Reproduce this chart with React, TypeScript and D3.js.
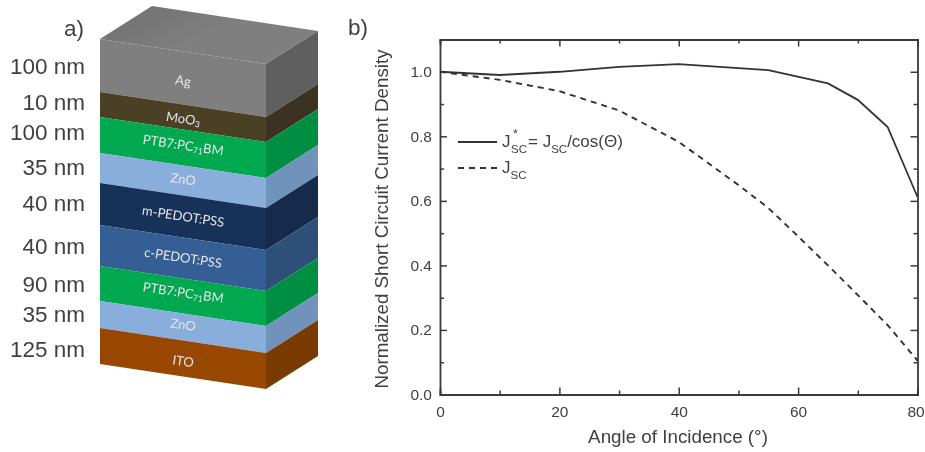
import React, { useEffect, useRef } from 'react';
import * as d3 from 'd3';

// panel a) layer stack, top to bottom
const layerNames = ['Ag', 'MoO3', 'PTB7:PC71BM', 'ZnO', 'm-PEDOT:PSS', 'c-PEDOT:PSS', 'PTB7:PC71BM', 'ZnO', 'ITO'];
const thicknessLabels = ['100 nm', '10 nm', '100 nm', '35 nm', '40 nm', '40 nm', '90 nm', '35 nm', '125 nm'];
const drawnHeights = [53, 25, 36, 30, 42, 41, 35, 27, 36]; // not to scale in the figure
const frontColors = ['#7f7f7f', '#4a3f26', '#00a84f', '#8aaedc', '#163259', '#365f94', '#00a84f', '#8aaedc', '#974706'];
const sideColors = ['#5f5f5f', '#3b3320', '#008f43', '#7093bb', '#142b4c', '#2f4f78', '#008f43', '#7093bb', '#7a3a05'];

// panel b) curves
const jStarAngles = [0, 10, 20, 30, 40, 55, 65, 70, 75, 80];
const jStarValues = [1.0, 0.99, 1.0, 1.015, 1.024, 1.005, 0.964, 0.913, 0.829, 0.612];
const jscAngles = [0, 10, 20, 30, 40, 50, 55, 60, 65, 70, 75, 80];
const jscValues = [1.0, 0.975, 0.94, 0.88, 0.783, 0.649, 0.578, 0.49, 0.4, 0.308, 0.215, 0.105];

const xTicks = [0, 10, 20, 30, 40, 50, 60, 70, 80];
const yTicks = [0, 0.1, 0.2, 0.3, 0.4, 0.5, 0.6, 0.7, 0.8, 0.9, 1.0];

const W = 925;
const H = 452;
const sans = '"Liberation Sans", Arial, sans-serif';
const ink = '#3f3f3f';

const x = d3.scaleLinear().domain([0, 80]).range([440, 917.5]);
const y = d3.scaleLinear().domain([0, 1.1]).range([394.5, 39.5]);

// stack geometry
const stackLeft = 100;
const stackFront = 266;
const skewDrop = 25;
const depthX = 52;
const depthY = -33;
const stackTop = 39;
const total = d3.sum(drawnHeights);
const stackY = d3.scaleLinear().domain([0, total]).range([stackTop, stackTop + total]);
const edges = d3.cumsum([0, ...drawnHeights]);
const labelNudge = [4, 3, -1, 0, 1, 1, -2, -1, 4];
const thicknessY = [74, 110, 140, 175, 211, 254, 292, 322, 357];
const tilt = (Math.atan2(skewDrop, stackFront - stackLeft) * 180) / Math.PI;

const curve = (xs: number[], ys: number[]) =>
  d3.line<number>().x((d) => x(d)).y((_, i) => y(ys[i]))(xs) as string;

const App = () => {
  const axesRef = useRef<SVGGElement>(null);

  useEffect(() => {
    const g = d3.select(axesRef.current);
    g.selectAll('*').remove();
    const yMajor = (v: number) => Math.round(v * 100) % 20 === 0;
    const xMajor = (v: number) => v % 20 === 0;

    const bottom = d3.axisBottom(x).tickValues(xTicks).tickSize(-4).tickFormat((d) => (xMajor(+d) ? String(d) : ''));
    const left = d3.axisLeft(y).tickValues(yTicks).tickSize(-4).tickFormat((d) => (yMajor(+d) ? d3.format('.1f')(+d) : ''));
    const top = d3.axisTop(x).tickValues(xTicks).tickSize(-4).tickFormat(() => '');
    const right = d3.axisRight(y).tickValues(yTicks).tickSize(-4).tickFormat(() => '');

    const gb = g.append('g').attr('transform', `translate(0,${y(0)})`).call(bottom);
    const gl = g.append('g').attr('transform', `translate(${x(0)},0)`).call(left);
    const gt = g.append('g').attr('transform', `translate(0,${y(1.1)})`).call(top);
    const gr = g.append('g').attr('transform', `translate(${x(80)},0)`).call(right);

    gb.selectAll('.tick').filter((d: any) => xMajor(d)).select('line').attr('y2', -7);
    gt.selectAll('.tick').filter((d: any) => xMajor(d)).select('line').attr('y2', 7);
    gl.selectAll('.tick').filter((d: any) => yMajor(d)).select('line').attr('x2', 7);
    gr.selectAll('.tick').filter((d: any) => yMajor(d)).select('line').attr('x2', -7);

    [gb, gl, gt, gr].forEach((a) => {
      a.selectAll('line').attr('stroke', '#3a3a3a').attr('stroke-width', 1.5);
      a.selectAll('path').attr('stroke', '#3a3a3a').attr('stroke-width', 1.8);
      a.selectAll('text').attr('font-family', sans).attr('font-size', 15.5).attr('fill', ink);
    });
    gb.selectAll('text').attr('y', 11).attr('dy', '0.71em');
    // last label sits against the page edge
    gb.selectAll('.tick').filter((d: any) => d === 80).select('text').attr('x', -2);
    gl.selectAll('text').attr('x', -8);
  }, []);

  return (
    <svg width={W} height={H} viewBox={`0 0 ${W} ${H}`} style={{ position: 'absolute', left: 0, top: 0, background: '#fff' }}>
      <defs>
        <filter id="soft" x="0" y="0" width="1" height="1">
          <feGaussianBlur stdDeviation="0.55" />
        </filter>
        <linearGradient id="topFace" gradientUnits="userSpaceOnUse" x1={152} y1={6} x2={176} y2={52}>
          <stop offset="0" stopColor="#737373" />
          <stop offset="1" stopColor="#7f7f7f" />
        </linearGradient>
      </defs>
      <g filter="url(#soft)">
        {/* panel a */}
        <text x={84} y={36} textAnchor="end" fontFamily={sans} fontSize={22.5} fill={ink}>a)</text>
        <polygon
          fill="url(#topFace)"
          points={[
            [stackLeft, stackTop],
            [stackLeft + depthX, stackTop + depthY],
            [stackFront + depthX, stackTop + skewDrop + depthY],
            [stackFront, stackTop + skewDrop],
          ].join(' ')}
        />
        {layerNames.map((name, i) => {
          const y0 = stackY(edges[i]);
          const y1 = stackY(edges[i + 1]);
          const cx = (stackLeft + stackFront) / 2;
          const cy = (y0 + y1) / 2 + skewDrop / 2 + labelNudge[i];
          const parts = name.startsWith('PTB7') ? ['PTB7:PC', '71', 'BM'] : name === 'MoO3' ? ['MoO', '3', ''] : null;
          return (
            <g key={i}>
              <polygon
                fill={frontColors[i]}
                points={[[stackLeft, y0], [stackFront, y0 + skewDrop], [stackFront, y1 + skewDrop], [stackLeft, y1]].join(' ')}
              />
              <polygon
                fill={sideColors[i]}
                points={[
                  [stackFront, y0 + skewDrop],
                  [stackFront + depthX, y0 + skewDrop + depthY],
                  [stackFront + depthX, y1 + skewDrop + depthY],
                  [stackFront, y1 + skewDrop],
                ].join(' ')}
              />
              <text
                transform={`translate(${cx},${cy}) rotate(${tilt})`}
                textAnchor="middle"
                dominantBaseline="middle"
                fontFamily="Lato, sans-serif"
                fontSize={13}
                fill="#e6e6e6"
              >
                {parts ? (
                  <>
                    {parts[0]}
                    <tspan fontSize={8.5} dy={3}>{parts[1]}</tspan>
                    <tspan dy={-3}>{parts[2]}</tspan>
                  </>
                ) : (
                  name
                )}
              </text>
              <text x={85} y={thicknessY[i]} textAnchor="end" fontFamily={sans} fontSize={22.5} fill={ink}>
                {thicknessLabels[i]}
              </text>
            </g>
          );
        })}

        {/* panel b */}
        <text x={348} y={35} fontFamily={sans} fontSize={22.5} fill={ink}>b)</text>
        <g ref={axesRef} />
        <path d={curve(jStarAngles, jStarValues)} fill="none" stroke="#333" strokeWidth={1.8} />
        <path d={curve(jscAngles, jscValues)} fill="none" stroke="#333" strokeWidth={1.9} strokeDasharray="6 5" />

        <line x1={458} x2={497} y1={142} y2={142} stroke="#333" strokeWidth={1.8} />
        <line x1={458} x2={497} y1={168} y2={168} stroke="#333" strokeWidth={1.9} strokeDasharray="6 5" />
        <text x={502} y={147} fontFamily={sans} fontSize={17} fill={ink}>J</text>
        <text x={513} y={138} fontFamily={sans} fontSize={12} fill={ink}>*</text>
        <text x={511} y={153} fontFamily={sans} fontSize={11.5} fill={ink}>SC</text>
        <text x={528} y={147} fontFamily={sans} fontSize={17} fill={ink}>
          = J<tspan fontSize={11.5} dy={6}>SC</tspan>
          <tspan dy={-6}>/cos(Θ)</tspan>
        </text>
        <text x={502} y={173} fontFamily={sans} fontSize={17} fill={ink}>
          J<tspan fontSize={11.5} dy={6}>SC</tspan>
        </text>

        <text x={678} y={443} textAnchor="middle" fontFamily={sans} fontSize={18.8} fill={ink}>Angle of Incidence (°)</text>
        <text
          transform="translate(388,219) rotate(-90)"
          textAnchor="middle"
          fontFamily={sans}
          fontSize={18.8}
          fill={ink}
        >
          Normalized Short Circuit Current Density
        </text>
      </g>
    </svg>
  );
};

export default App;
